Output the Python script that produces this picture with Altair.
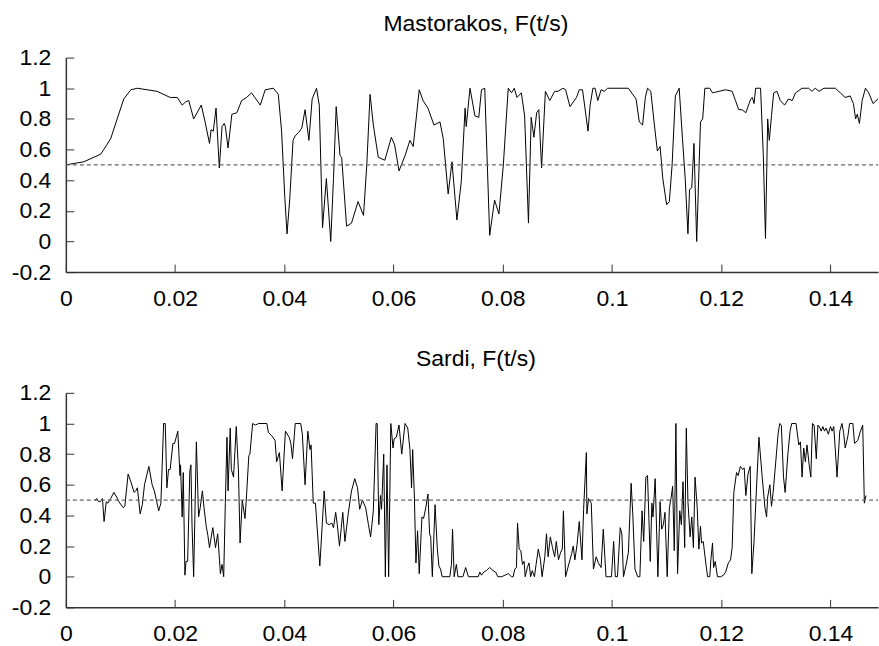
import altair as alt
import pandas as pd

# ---------------- data ----------------
mast_t = [0, 0.0033, 0.0064, 0.0082, 0.0094, 0.0106, 0.0119, 0.0131, 0.0167, 0.0191,
          0.0204, 0.0213, 0.0219, 0.0225, 0.0234, 0.0248, 0.0255, 0.0263, 0.0266, 0.027,
          0.0275, 0.0281, 0.0286, 0.029, 0.0292, 0.0297, 0.0304, 0.0313, 0.0322, 0.0331,
          0.034, 0.0346, 0.0356, 0.0365, 0.038, 0.0389, 0.0395, 0.0401, 0.0405, 0.041,
          0.0416, 0.042, 0.0426, 0.0432, 0.0438, 0.0445, 0.0451, 0.0459, 0.0464, 0.047,
          0.0477, 0.0485, 0.049, 0.0495, 0.0502, 0.0505, 0.0514, 0.0523, 0.0535, 0.0545,
          0.0551, 0.0557, 0.0563, 0.0572, 0.0584, 0.0596, 0.0602, 0.061, 0.0621, 0.063,
          0.0636, 0.0647, 0.0654, 0.0663, 0.0674, 0.0685, 0.0691, 0.07, 0.0707, 0.0716,
          0.0724, 0.0731, 0.0733, 0.074, 0.0749, 0.0756, 0.0761, 0.0767, 0.0776, 0.0785,
          0.0793, 0.0801, 0.081, 0.0816, 0.0821, 0.0826, 0.0834, 0.084, 0.0847, 0.0852,
          0.0857, 0.0862, 0.0866, 0.0871, 0.0878, 0.0886, 0.0895, 0.0901, 0.091, 0.0915,
          0.0923, 0.0929, 0.0935, 0.094, 0.0946, 0.0949, 0.0956, 0.096, 0.0965, 0.0969,
          0.0974, 0.098, 0.0986, 0.0992, 0.1, 0.103, 0.1044, 0.105, 0.1056, 0.1061,
          0.1065, 0.1071, 0.1077, 0.1083, 0.1088, 0.1093, 0.11, 0.1105, 0.111, 0.1116,
          0.1123, 0.1129, 0.1134, 0.1139, 0.1142, 0.1146, 0.115, 0.1155, 0.1162, 0.1166,
          0.117, 0.1179, 0.1184, 0.1196, 0.1208, 0.122, 0.1226, 0.1232, 0.1238, 0.1245,
          0.1251, 0.1254, 0.1257, 0.126, 0.1263, 0.1272, 0.1277, 0.1281, 0.1285, 0.1288,
          0.1292, 0.1296, 0.1302, 0.1308, 0.1316, 0.1323, 0.133, 0.1336, 0.1348, 0.136,
          0.1366, 0.1372, 0.1379, 0.1388, 0.1409, 0.1418, 0.1427, 0.1436, 0.1442, 0.1446,
          0.1449, 0.1453, 0.1458, 0.1464, 0.147, 0.1478, 0.1487]
mast_f = [0.5, 0.52, 0.57, 0.67, 0.8, 0.93, 0.99, 1.0, 0.98, 0.94,
          0.94, 0.89, 0.91, 0.92, 0.8, 0.89, 0.78, 0.64, 0.73, 0.72,
          0.87, 0.48, 0.75, 0.77, 0.75, 0.61, 0.83, 0.84, 0.92, 0.94,
          0.97, 0.94, 0.89, 0.99, 1.0, 0.96, 0.72, 0.28, 0.05, 0.28,
          0.66, 0.69, 0.71, 0.74, 0.86, 0.66, 0.93, 1.0, 0.89, 0.09,
          0.41, 0.0, 0.41, 0.88, 0.56, 0.55, 0.1, 0.12, 0.26, 0.17,
          0.5, 0.96, 0.76, 0.55, 0.53, 0.68, 0.63, 0.46, 0.56, 0.66,
          0.62, 0.99, 0.92, 0.87, 0.76, 0.78, 0.67, 0.31, 0.52, 0.14,
          0.39, 0.87, 0.75, 1.0, 0.82, 0.81, 0.99, 1.0, 0.04, 0.27,
          0.18, 0.5, 1.0, 0.97, 1.0, 0.94, 0.97, 0.82, 0.12, 0.81,
          0.68, 0.84, 0.86, 0.48, 0.98, 0.92, 0.98, 0.98, 1.0, 0.99,
          0.88, 0.91, 0.94, 0.99, 0.99, 0.91, 0.72, 0.89, 1.0, 1.0,
          0.92, 0.99, 0.98, 1.0, 1.0, 1.0, 0.93, 0.78, 0.76, 0.94,
          1.0, 0.98, 0.78, 0.59, 0.62, 0.41, 0.24, 0.26, 0.5, 0.95,
          1.0, 0.67, 0.41, 0.05, 0.34, 0.35, 0.64, 0.0, 0.78, 0.8,
          1.0, 1.0, 0.97, 0.98, 0.99, 0.98, 0.92, 0.86, 0.86, 0.84,
          0.9, 0.93, 0.94, 0.9, 1.0, 1.0, 0.56, 0.02, 0.8, 0.66,
          0.82, 0.97, 0.98, 0.92, 0.89, 0.93, 0.92, 0.97, 1.0, 1.0,
          0.98, 1.0, 0.98, 1.0, 1.0, 0.97, 0.94, 0.95, 0.9, 0.8,
          0.83, 0.77, 0.92, 1.0, 0.97, 0.9, 0.93]

sardi_t = [0.0053, 0.0057, 0.006, 0.0063, 0.0067, 0.007, 0.0074, 0.0077, 0.0082, 0.0088,
           0.0093, 0.0097, 0.0105, 0.0108, 0.0114, 0.0119, 0.0125, 0.0128, 0.0131, 0.0136,
           0.014, 0.0144, 0.0152, 0.0158, 0.0162, 0.017, 0.0174, 0.0179, 0.0182, 0.0185,
           0.0188, 0.0191, 0.0196, 0.0199, 0.0205, 0.0209, 0.021, 0.0213, 0.0215, 0.0218,
           0.022, 0.0223, 0.0227, 0.0229, 0.0231, 0.0234, 0.0239, 0.0243, 0.0246, 0.025,
           0.0253, 0.0257, 0.026, 0.0263, 0.0269, 0.0274, 0.0278, 0.0283, 0.0286, 0.0289,
           0.0292, 0.0295, 0.0297, 0.0301, 0.0303, 0.0307, 0.0312, 0.0316, 0.0319, 0.0323,
           0.0328, 0.0331, 0.0335, 0.0337, 0.0342, 0.0347, 0.0353, 0.0368, 0.0371, 0.0377,
           0.0383, 0.0386, 0.0391, 0.0396, 0.0402, 0.0409, 0.0412, 0.0415, 0.042, 0.043,
           0.0433, 0.0438, 0.0443, 0.0447, 0.0449, 0.0453, 0.0457, 0.0465, 0.0473, 0.0477,
           0.0482, 0.0487, 0.049, 0.0494, 0.0497, 0.0501, 0.0507, 0.0511, 0.0517, 0.0523,
           0.0529, 0.0534, 0.0538, 0.0543, 0.0549, 0.0554, 0.0558, 0.0563, 0.0568, 0.057,
           0.0573, 0.0576, 0.0578, 0.0582, 0.0585, 0.0588, 0.0591, 0.0595, 0.0599, 0.0601,
           0.0605, 0.061, 0.0615, 0.0621, 0.0626, 0.063, 0.0633, 0.0635, 0.0638, 0.0641,
           0.0644, 0.0647, 0.0652, 0.0655, 0.0659, 0.0663, 0.0666, 0.0668, 0.0671, 0.0676,
           0.068, 0.0683, 0.0686, 0.0689, 0.0703, 0.0706, 0.0708, 0.0711, 0.0715, 0.0718,
           0.0727, 0.0732, 0.0737, 0.0755, 0.0758, 0.0761, 0.0765, 0.077, 0.0776, 0.0782,
           0.0787, 0.0791, 0.0798, 0.0804, 0.081, 0.0816, 0.0819, 0.0822, 0.0825, 0.0827,
           0.083, 0.0833, 0.0836, 0.0839, 0.0841, 0.0845, 0.0848, 0.0851, 0.0854, 0.0858,
           0.0861, 0.0865, 0.0869, 0.0872, 0.0877, 0.088, 0.0883, 0.0887, 0.0891, 0.0895,
           0.0898, 0.0902, 0.0906, 0.0909, 0.0911, 0.0915, 0.092, 0.0926, 0.0929, 0.0932,
           0.0936, 0.094, 0.0945, 0.0948, 0.0953, 0.0954, 0.0957, 0.0962, 0.0966, 0.0971,
           0.0975, 0.098, 0.0984, 0.0989, 0.0996, 0.0999, 0.1003, 0.1006, 0.101, 0.1015,
           0.1018, 0.1021, 0.1026, 0.103, 0.1035, 0.1038, 0.1042, 0.1047, 0.1051, 0.1055,
           0.1058, 0.1062, 0.1065, 0.107, 0.1073, 0.1075, 0.1079, 0.1084, 0.1088, 0.1091,
           0.1094, 0.1097, 0.1101, 0.1105, 0.1108, 0.1111, 0.1114, 0.1117, 0.112, 0.1124,
           0.1127, 0.113, 0.1133, 0.1136, 0.1139, 0.1143, 0.1146, 0.1149, 0.1152, 0.1156,
           0.1159, 0.1162, 0.1164, 0.1167, 0.1172, 0.1175, 0.1179, 0.1181, 0.1184, 0.1186,
           0.1189, 0.1193, 0.1199, 0.1204, 0.1208, 0.1213, 0.1217, 0.122, 0.1223, 0.1228,
           0.1231, 0.1235, 0.1239, 0.1242, 0.1245, 0.1249, 0.1253, 0.1256, 0.126, 0.1264,
           0.1269, 0.1275, 0.128, 0.1283, 0.1285, 0.1289, 0.1292, 0.1295, 0.1301, 0.1304,
           0.1307, 0.131, 0.1314, 0.1317, 0.1322, 0.1326, 0.1329, 0.1337, 0.1342, 0.1345,
           0.1348, 0.1351, 0.1354, 0.1357, 0.1361, 0.1364, 0.1367, 0.137, 0.1374, 0.1377,
           0.1381, 0.1383, 0.1386, 0.1389, 0.1392, 0.1396, 0.14, 0.1403, 0.1406, 0.1409,
           0.1412, 0.1417, 0.1421, 0.1424, 0.1427, 0.1432, 0.1435, 0.1441, 0.1444, 0.145,
           0.1454, 0.1459, 0.1462, 0.1465]
sardi_f = [0.5, 0.51, 0.49, 0.49, 0.51, 0.36, 0.49, 0.48, 0.51, 0.55,
           0.52, 0.49, 0.45, 0.46, 0.67, 0.62, 0.55, 0.56, 0.58, 0.41,
           0.47, 0.6, 0.72, 0.6, 0.56, 0.43, 0.48, 1.0, 1.0, 0.58,
           0.7, 0.7, 0.87, 0.87, 0.95, 0.66, 0.73, 0.39, 0.68, 0.01,
           0.1, 0.1, 0.69, 0.73, 0.34, 0.0, 0.88, 0.39, 0.45, 0.56,
           0.45, 0.33, 0.27, 0.19, 0.32, 0.19, 0.28, 0.02, 0.08, 0.0,
           0.48, 0.91, 0.56, 0.97, 0.7, 0.65, 0.98, 0.69, 0.22, 0.5,
           0.38, 0.54, 0.79, 0.8, 1.0, 0.99, 1.0, 1.0, 0.94, 0.92,
           0.89, 0.75, 0.81, 0.56, 0.95, 0.91, 0.87, 0.77, 1.0, 1.0,
           0.93, 0.6, 0.95, 0.83, 0.86, 0.48, 0.48, 0.07, 0.56, 0.35,
           0.34, 0.35, 0.32, 0.42, 0.34, 0.2, 0.42, 0.23, 0.41, 0.56,
           0.64, 0.58, 0.44, 0.5, 0.45, 0.34, 0.26, 0.43, 1.0, 1.0,
           0.34, 0.53, 0.44, 0.8, 0.0, 0.73, 0.0, 1.0, 0.84, 0.9,
           0.91, 0.99, 0.8, 1.0, 0.97, 0.83, 0.58, 0.83, 0.54, 0.09,
           0.3, 0.02, 0.39, 0.38, 0.45, 0.54, 0.28, 0.26, 0.0, 0.47,
           0.19, 0.07, 0.05, 0.0, 0.0, 0.08, 0.31, 0.0, 0.08, 0.0,
           0.0, 0.06, 0.0, 0.0, 0.03, 0.01, 0.03, 0.04, 0.06, 0.04,
           0.03, 0.0, 0.0, 0.01, 0.02, 0.0, 0.0, 0.05, 0.06, 0.35,
           0.18, 0.17, 0.08, 0.1, 0.0, 0.06, 0.09, 0.0, 0.04, 0.0,
           0.08, 0.18, 0.11, 0.0, 0.13, 0.28, 0.13, 0.26, 0.19, 0.13,
           0.23, 0.11, 0.16, 0.18, 0.43, 0.0, 0.07, 0.15, 0.2, 0.11,
           0.21, 0.36, 0.11, 0.44, 0.81, 0.41, 0.51, 0.48, 0.05, 0.13,
           0.09, 0.06, 0.31, 0.0, 0.0, 0.0, 0.23, 0.0, 0.0, 0.32,
           0.28, 0.0, 0.08, 0.16, 0.61, 0.41, 0.05, 0.0, 0.0, 0.43,
           0.23, 0.65, 0.66, 0.1, 0.48, 0.39, 0.64, 0.0, 0.49, 0.31,
           0.34, 0.42, 0.0, 0.45, 0.51, 0.59, 0.17, 1.0, 0.02, 0.43,
           0.34, 0.62, 0.19, 0.97, 0.49, 0.26, 0.39, 0.19, 0.65, 0.45,
           0.18, 0.33, 0.22, 0.23, 0.08, 0.0, 0.0, 0.11, 0.22, 0.06,
           0.1, 0.0, 0.0, 0.01, 0.03, 0.09, 0.11, 0.19, 0.55, 0.68,
           0.66, 0.72, 0.7, 0.71, 0.53, 0.67, 0.72, 0.02, 0.23, 0.54,
           0.91, 0.65, 0.45, 0.39, 0.52, 0.6, 0.46, 0.55, 0.8, 0.93,
           1.0, 0.99, 0.65, 0.55, 0.8, 0.95, 1.0, 1.0, 0.86, 0.88,
           0.65, 0.84, 0.75, 0.86, 0.73, 0.65, 1.0, 0.99, 0.77, 0.99,
           0.97, 0.95, 0.98, 0.95, 0.97, 0.93, 0.98, 0.95, 0.98, 0.82,
           0.65, 0.95, 1.0, 0.94, 0.84, 0.92, 1.0, 1.0, 0.87, 0.89,
           0.94, 0.99, 0.48, 0.53]

titles = ["Mastorakos, F(t/s)", "Sardi, F(t/s)"]
x_tick_values = [0, 0.02, 0.04, 0.06, 0.08, 0.1, 0.12, 0.14]
y_tick_values = [-0.2, 0, 0.2, 0.4, 0.6, 0.8, 1, 1.2]
x_domain = [0, 0.1487]
y_domain = [-0.2, 1.2]
ref_level = [0.5]

# ---------------- styling ----------------
W, H = 814, 215
FONT = "Liberation Sans"
FS = 23
AXIS_COLOR = "#333333"
INWARD = alt.ExprRef(expr="-8")   # gnuplot-style ticks pointing into the plot

X_AXIS = alt.Axis(orient="bottom", values=x_tick_values, labelExpr="'' + datum.value",
                  ticks=True, tickSize=INWARD, labelPadding=23, labelFlush=False,
                  domain=True, grid=False, title=None)
Y_AXIS = alt.Axis(orient="left", values=y_tick_values, labelExpr="'' + datum.value",
                  ticks=True, tickSize=INWARD, labelPadding=23, labelFlush=False,
                  domain=True, grid=False, title=None)


def xs():
    return alt.Scale(domain=x_domain, nice=False, zero=False)


def ys():
    return alt.Scale(domain=y_domain, nice=False, zero=False)


def panel(ts, fs, title):
    curve = pd.DataFrame({"t": ts, "F": fs})
    line = alt.Chart(curve).mark_line(color="black", strokeWidth=1, clip=True).encode(
        x=alt.X("t:Q", scale=xs(), axis=X_AXIS),
        y=alt.Y("F:Q", scale=ys(), axis=Y_AXIS),
    )
    ref = pd.DataFrame({"x0": [x_domain[0]], "x1": [x_domain[1]], "y": ref_level})
    dash = alt.Chart(ref).mark_rule(color="#666666", strokeWidth=1.2, strokeDash=[4, 3]).encode(
        x=alt.X("x0:Q", scale=xs(), axis=X_AXIS),
        x2="x1:Q",
        y=alt.Y("y:Q", scale=ys(), axis=Y_AXIS),
    )
    return alt.layer(line, dash).properties(
        width=W, height=H,
        title=alt.TitleParams(text=title, fontSize=FS, font=FONT, fontWeight="normal",
                              color="black", anchor="middle", frame="group",
                              offset=11, dx=4),
    )


chart = alt.vconcat(
    panel(mast_t, mast_f, titles[0]),
    panel(sardi_t, sardi_f, titles[1]),
    spacing=38,
).properties(
    padding={"left": 11, "top": 12, "right": 0, "bottom": 0},
    background="white",
).configure_view(stroke=None).configure_axis(
    labelFont=FONT, labelFontSize=FS, labelColor="black",
    domainColor=AXIS_COLOR, tickColor=AXIS_COLOR, domainWidth=1.5, tickWidth=1,
)

chart.save("out.html", embed_options={"renderer": "svg", "actions": False})
